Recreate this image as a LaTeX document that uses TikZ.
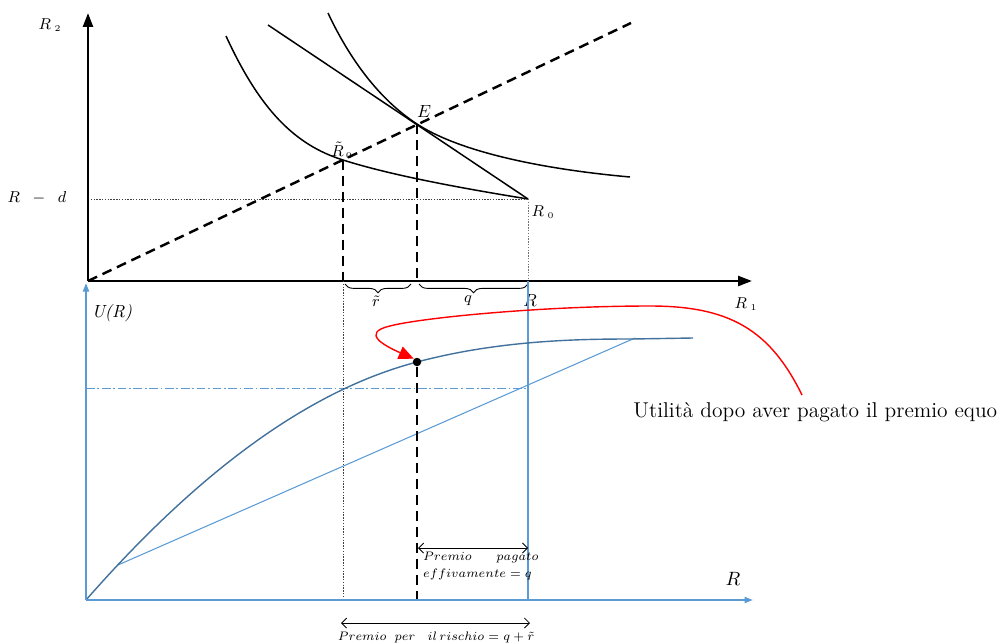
\documentclass[tikz,border=0pt]{standalone}
\usepackage{xcolor}
\usetikzlibrary{arrows.meta,decorations.pathreplacing}
\definecolor{axisBlue}{HTML}{5B9BD5}
\definecolor{curveBlue}{HTML}{41719C}

\begin{document}
\begin{tikzpicture}[
  x=0.02cm, y=-0.02cm,
  font=\fontsize{9}{11}\selectfont,
  blackaxis/.style={line width=1.4pt, -{Triangle[length=2.8mm,width=2mm]}},
  blueaxis/.style={draw=axisBlue, line width=1.1pt, -{Triangle[length=1.7mm,width=1.2mm]}},
  indiff/.style={line width=0.85pt},
  thickdash/.style={line width=1.4pt, dash pattern=on 2mm off 1.2mm},
  guide/.style={line width=0.45pt, dash pattern=on 0.8pt off 0.8pt, draw=black!75},
  bracemark/.style={decorate, decoration={brace, mirror, amplitude=5pt}, line width=0.5pt},
  premio/.style={font=\fontsize{7}{8.5}\selectfont, inner sep=1pt, align=left},
  spanarrow/.style={line width=0.5pt, {Straight Barb[length=1mm]}-{Straight Barb[length=1mm]}}
]
\useasboundingbox (0,0) rectangle (1006,642);

% top panel: R1 - R2 plane
\coordinate (O) at (88,281);
\coordinate (R2top) at (88,13);
\coordinate (R1end) at (752,281);
\coordinate (Rd) at (88,199);
\coordinate (R0) at (528,199);
\coordinate (E) at (417,124);
\coordinate (Rt) at (343,160);
\coordinate (diagEnd) at (631,23);
\coordinate (budgetTop) at (268,25);
\coordinate (Rtbase) at (343,281);
\coordinate (Ebase) at (417,281);
\coordinate (R0base) at (528,281);

\draw[indiff] (226,36) .. controls (260,110) and (295,145) .. (Rt)
  .. controls (390,175) and (460,188) .. (R0);
\draw[indiff] (328,13) .. controls (350,60) and (380,100) .. (E)
  .. controls (455,149) and (530,168) .. (630,177);
\draw[indiff] (budgetTop) -- (R0);
\draw[thickdash] (O) -- (diagEnd);
\draw[thickdash] (Rt) -- (Rtbase);
\draw[thickdash] (E) -- (Ebase);
\draw[guide] (Rd) -- (R0);
\draw[guide, draw=black!55] (R0) -- (R0base);
\draw[blackaxis] (O) -- (R2top);
\draw[blackaxis] (O) -- (R1end);

\coordinate (brRtA) at (345,284);
\coordinate (brRtB) at (411,284);
\coordinate (brQA) at (419,284);
\coordinate (brQB) at (528,284);
\draw[bracemark] (brRtA) -- (brRtB);
\draw[bracemark] (brQA) -- (brQB);

\node (lblR2) at (50,25) {$R_{\;\scriptscriptstyle 2}$};
\node (lblRd) at (37,198) {$R\;\;-\;\;d$};
\node[font=\fontsize{10}{12}\selectfont] (lblE) at (424,111) {$E$};
\node (lblRt) at (342,150) {$\tilde{R}_{\,\scriptscriptstyle 0}$};
\node (lblR0) at (543,212) {$R_{\;\scriptscriptstyle 0}$};
\node (lblR1) at (746,304) {$R_{\;\scriptscriptstyle 1}$};
\node (lblrt) at (376,301) {$\tilde{r}$};
\node (lblq) at (468,301) {$q$};
\node[font=\fontsize{10}{12}\selectfont] (lblRaxis) at (530,300) {$R$};

% bottom panel: utility
\coordinate (UO) at (86,600);
\coordinate (Utop) at (86,283);
\coordinate (Uend) at (753,600);
\coordinate (Rbottom) at (528,600);
\coordinate (Rtbottom) at (343,600);
\coordinate (Ebottom) at (417,600);
\coordinate (chordA) at (118,565);
\coordinate (chordB) at (635,338);
\coordinate (EU) at (86,388);
\coordinate (EUend) at (528,388);

\draw[draw=axisBlue, line width=0.9pt] (R0base) -- (Rbottom);
\draw[axisBlue, line width=0.5pt, dash pattern=on 5pt off 1.5pt on 1pt off 1.5pt] (EU) -- (EUend);
\draw[axisBlue, line width=0.6pt] (chordA) -- (chordB);
\draw[curveBlue, line width=0.8pt] (UO) .. controls (200,470) and (310,390) .. (417,362)
  .. controls (500,340) and (580,339) .. (632,339) -- (693,338);
\draw[guide] (Rtbase) -- (Rtbottom);
\node[circle, fill=black, inner sep=0pt, minimum size=1.7mm] (dot) at (417,362) {};
\draw[thickdash] (dot.south) -- (Ebottom);
\draw[blueaxis] (UO) -- (Utop);
\draw[blueaxis] (UO) -- (Uend);

\draw[red, line width=0.8pt, -{Triangle[length=3mm,width=2.6mm]}] (802,395)
  .. controls (770,330) and (730,306) .. (650,306)
  .. controls (540,306) and (420,318) .. (390,326)
  .. controls (360,333) and (385,346) .. (dot.north west);

\node[font=\fontsize{10}{12}\selectfont] (lblU) at (112,313) {\textit{U(R)}};
\node[font=\fontsize{11}{13}\selectfont] (lblRb) at (733,579) {$R$};
\node[font=\fontsize{12.2}{15}\selectfont, anchor=base west, inner sep=0pt] (lblUtil) at (633,417) {Utilità dopo aver pagato il premio equo};

\coordinate (pqA) at (418,548);
\coordinate (pqB) at (528,548);
\draw[spanarrow] (pqA) -- (pqB);
\node[premio, anchor=north west] (lblPq) at (421,550) {$Premio\qquad pagato$\\[1pt]$effivamente=q$};

\coordinate (prA) at (341,623);
\coordinate (prB) at (530,623);
\draw[spanarrow] (prA) -- (prB);
\node[premio, anchor=base] (lblPr) at (436,640) {$Premio\;\;per\quad il\,rischio=q+\tilde{r}$};
\end{tikzpicture}
\end{document}
